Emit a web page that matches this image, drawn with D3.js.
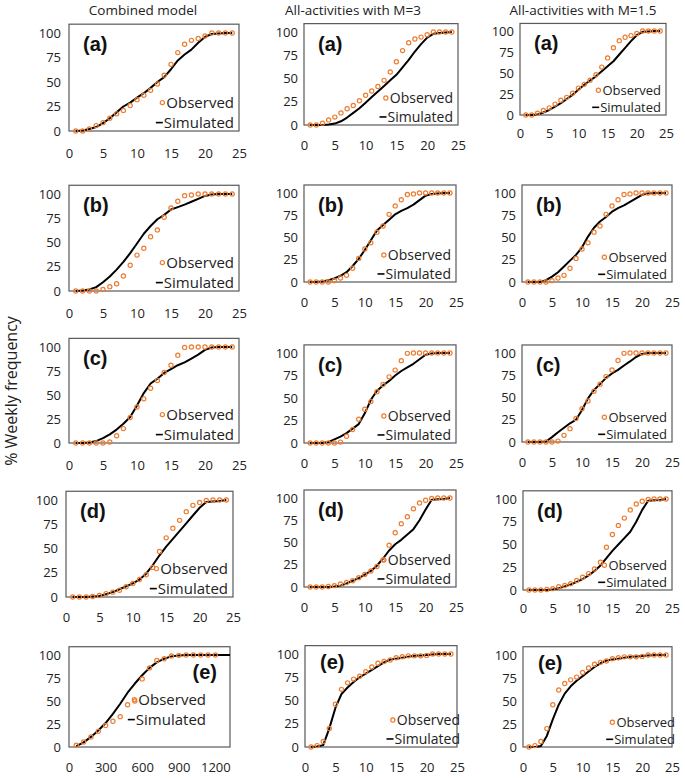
<!DOCTYPE html>
<html><head><meta charset="utf-8">
<script src="https://cdn.jsdelivr.net/npm/d3@7/dist/d3.min.js"></script>
<style>
body{margin:0;background:#fff;}
svg{display:block;font-family:'Open Sans',sans-serif;}
</style>
</head><body>
<svg id="chart" width="685" height="778"></svg>
<script>
// ---------------- DATA ----------------
const columnTitles = ["Combined model", "All-activities with M=3", "All-activities with M=1.5"];
const panelLetters = ["(a)", "(b)", "(c)", "(d)", "(e)"];
const yTicks = [0, 25, 50, 75, 100];
const weekTicks = [0, 5, 10, 15, 20, 25];
const minuteTicks = [0, 300, 600, 900, 1200];

const weeks = [1,2,3,4,5,6,7,8,9,10,11,12,13,14,15,16,17,18,19,20,21,22,23,24];

// observed (same in every column of a row)
const obsA = [0,0,2,5.5,8.5,13,17.5,21,26,32,36.5,41.5,48,57,68,80,88.5,92.5,94.5,97,100,100,100,100];
const obsB = [0,0,0,0,1.5,4.5,7.5,15.5,26.5,37,44,56,63,76,85.5,92.5,98.3,99,100,100,100,100,100,100];
const obsC = [0,0,0,0,0,1,7.5,15,26.5,37.5,46,57,65,73.5,81,91.5,99.6,100,100,100,100,100,100,100];
const obsD = [0,0,0,0.5,1.5,3.5,5,7,10.5,14,18,23,30.5,47,61,71,79,88,94.5,97.5,99.5,100,100,100];
const obsE = [0,1.5,6,20,46,62,69,73,76,81,86,90,92,93.5,96,97,98,98,98,98.5,100,100,100,100];

// combined model, panel (e): minutes
const obsMinutes = [60,120,180,240,300,360,420,480,540,600,660,720,780,840,900,960,1020,1080,1140,1200];
const obsCombE = [2,5.5,11,17,23.5,28,33,46,50,74,86,94,96,99,99.6,100,100,100,100,100];
const simMinutes = [60,120,180,240,300,360,420,480,540,600,660,720,780,840,900,960,1020,1080,1140,1200,1260,1320];
const simCombE = [1,5,11,18,26,36,47,59,69,78,86,92,96,98.5,99.5,100,100,100,100,100,100,100];

// simulated
const simCombA = [0,0.5,2,4,8,13,19,25,29,34,38.6,44,50,55,63,72,78,83,90,96,99,99.5,100,100];
const simCombB = [0,0.5,1.5,4,9,15,22,30,39,49,59,67,74,78.5,84,86.5,89,92,95,98,99.5,100,100,100];
const simCombC = [0,0,0.5,2,5,9,14,20,27,39,52,62,67,73,77,81,84,88,92,97,99.5,100,100,100];
const simCombD = [0,0,0,0.5,1,3,5,8,11,14,18,24,33,43,52,60,68,76,84,92,98,98.5,99,100];

const simM3A = [0,0,0,0.5,1.5,4,8,13,18,24,30,36,42,48,54,62,70,79,87,94,98,99,99.5,100];
const simM3B = [0,0,0.5,2,4,7,11,18,26,36,47,58,64,70,76,80,83,87,92,97,99,99.5,100,100];
const simM3C = [0,0,0,1,4,7,11,16,21,33,48,58,64,69,75,80,84,88,93,98,99.5,100,100,100];
const simM3D = [0,0,0,0,0.5,1.5,4,7,10,14,18,24,32,41,48,53,59,65,75,87,98,98.5,99,100];
const simM3E = [0,0.5,2,20,42,57,64,70,75,79,83,87,91,94,95,96,97,98,98.5,99,99.5,100,100,100];

const simM15A = [0,0,0.5,3,6,10,14,19,24,30,36,41,46,52,58,64,72,80,88,95,99,99.5,100,100];
const simM15B = [0,0,0,2,6,11,17.5,24,30.5,39,51,61,68,73,79,83,86,90,94,98,99.5,100,100,100];
const simM15C = [0,0,0,0.5,5.5,11,16,21,25,36,49,58.5,65,72,77,81,86,90.5,95.5,99,100,100,100,100];
const simM15D = [0,0,0,0,0.5,2,4,6,9,12,16,21,27,35,43,50,57,64,75,88,98,98.5,99,100];
const simM15E = [0,0,1,12,30,46,58,66,72,77,82,87,91,94,95,96,97,98,98.5,99,99.5,100,100,100];

// ---------------- LAYOUT ----------------
// [left, right, y(100), y(0), x-tick-label y]
const layout = [
  [[69,239,33,131,153],[69,239,194,291,313],[69,239,347,443,465],[66,233,500,597,617],[69,230,655,747,767]],
  [[304,458,32,125,145],[304,456,193,282,302],[304,456,353,443,463],[304,456,498,587,607],[305,457,654,747,767]],
  [[520,666,31,115,133],[522,672,193,282,302],[522,672,353,442,462],[523,672,499,590,608],[523,672,655,747,767]]
];
const titleX = [143, 353, 583];
const legendFont = [15, 14, 13];
const legendGap = [20, 19, 17];

const obsRows = [obsA, obsB, obsC, obsD, obsE];
const simCols = [
  [simCombA, simCombB, simCombC, simCombD, simCombE],
  [simM3A, simM3B, simM3C, simM3D, simM3E],
  [simM15A, simM15B, simM15C, simM15D, simM15E]
];

const ORANGE = "#ED7D31";
const svg = d3.select("#chart");

// column titles
svg.selectAll("text.ctitle").data(columnTitles).join("text")
  .attr("class","ctitle")
  .attr("x",(d,i)=>titleX[i]).attr("y",15)
  .attr("text-anchor","middle")
  .style("font-size","13.5px").style("fill","#222")
  .text(d=>d);

// y title
svg.append("text")
  .attr("transform","translate(17,391) rotate(-90)")
  .attr("text-anchor","middle")
  .style("font-size","16px").style("fill","#222")
  .text("% Weekly frequency");

for (let c = 0; c < 3; c++) {
  for (let r = 0; r < 5; r++) {
    const [L, R, Y100, Y0, LY] = layout[c][r];
    const isMinutes = (c === 0 && r === 4);
    const x = d3.scaleLinear().domain([0, isMinutes ? 1320 : 25]).range([L, R]);
    const y = d3.scaleLinear().domain([0, 100]).range([Y0, Y100]);
    const g = svg.append("g");

    const top = y(109);
    // y axis labels
    const ya = g.append("g").attr("transform",`translate(${L},0)`)
      .call(d3.axisLeft(y).tickValues(yTicks).tickSize(0).tickPadding(c===0?8:6));
    ya.select(".domain").remove();
    ya.selectAll("text").style("font-family","'Open Sans',sans-serif").style("font-size","13px").style("fill","#222");

    // x axis labels
    const xa = g.append("g").attr("transform",`translate(0,${LY})`)
      .call(d3.axisBottom(x).tickValues(isMinutes ? minuteTicks : weekTicks)
        .tickFormat(d3.format("d")).tickSize(0).tickPadding(0));
    xa.select(".domain").remove();
    xa.selectAll("text").attr("y",0).attr("dy","0.35em")
      .style("font-family","'Open Sans',sans-serif").style("font-size","13px").style("fill","#222");

    // plot box
    g.append("rect").attr("x",L).attr("y",top).attr("width",R-L).attr("height",Y0-top)
      .attr("fill","none").attr("stroke","#595959").attr("stroke-width",1.2);

    // simulated line
    const sx = isMinutes ? simMinutes : weeks;
    const sv = simCols[c][r];
    const line = d3.line().x((d,i)=>x(sx[i])).y(d=>y(d));
    g.append("path").datum(sv).attr("d",line)
      .attr("fill","none").attr("stroke","#000").attr("stroke-width",2).attr("stroke-linejoin","round");

    // observed points
    const ox = isMinutes ? obsMinutes : weeks;
    const ov = isMinutes ? obsCombE : obsRows[r];
    g.selectAll("circle.obs").data(ov).join("circle").attr("class","obs")
      .attr("cx",(d,i)=>x(ox[i])).attr("cy",d=>y(d)).attr("r",2.1)
      .attr("fill","none").attr("stroke",ORANGE).attr("stroke-width",1.2);

    // panel letter
    const lab = g.append("text").style("font-family","'Liberation Sans',Arial,sans-serif")
      .style("font-weight","bold").style("font-size","20px").style("fill","#111")
      .text(panelLetters[r]);
    if (isMinutes) {
      lab.attr("x",R-13).attr("y",Y100+24).attr("text-anchor","end");
    } else if (r === 4) {
      lab.attr("x",L+15).attr("y",Y100+15);
    } else {
      lab.attr("x",L+14).attr("y",top+27);
    }

    // legend
    const fs = legendFont[c], gap = legendGap[c];
    let rx, b1, b2;
    if (isMinutes) { rx = 206; b2 = Y0-22; b1 = b2-gap; }
    else if (r === 4) { rx = R+3; b2 = Y0-3; b1 = b2-gap; }
    else { rx = R-5; b2 = Y0-3; b1 = b2-gap; }
    const t1 = g.append("text").attr("x",rx).attr("y",b1).attr("text-anchor","end")
      .style("font-size",fs+"px").style("fill","#222").text("Observed");
    const t2 = g.append("text").attr("x",rx).attr("y",b2).attr("text-anchor","end")
      .style("font-size",fs+"px").style("fill","#222").text("Simulated");
    const w1 = t1.node().getComputedTextLength();
    const w2 = t2.node().getComputedTextLength();
    g.append("circle").attr("cx",rx-w1-4).attr("cy",b1-fs*0.36).attr("r",2.1)
      .attr("fill","none").attr("stroke",ORANGE).attr("stroke-width",1.2);
    g.append("line").attr("x1",rx-w2-8).attr("x2",rx-w2-1).attr("y1",b2-fs*0.36).attr("y2",b2-fs*0.36)
      .attr("stroke","#000").attr("stroke-width",1.6);
  }
}
</script>
</body></html>
